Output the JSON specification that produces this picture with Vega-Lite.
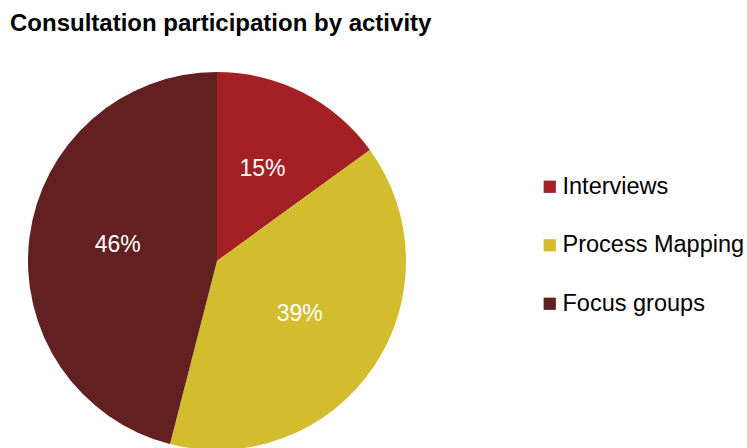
{
  "$schema": "https://vega.github.io/schema/vega-lite/v6.json",
  "autosize": "none",
  "width": 434,
  "height": 422,
  "padding": {"left": 0, "top": 50, "right": 313, "bottom": 0},
  "background": "white",
  "title": {
    "text": "Consultation participation by activity",
    "anchor": "start",
    "frame": "group",
    "dx": 10,
    "offset": 14,
    "font": "Liberation Sans",
    "fontSize": 24,
    "fontWeight": "bold",
    "color": "#000000"
  },
  "data": {
    "values": [
      {"activity": "Interviews", "share": 15, "label": "15%", "rank": 1},
      {"activity": "Process Mapping", "share": 39, "label": "39%", "rank": 2},
      {"activity": "Focus groups", "share": 46, "label": "46%", "rank": 3}
    ]
  },
  "encoding": {
    "theta": {"field": "share", "type": "quantitative", "stack": true},
    "order": {"field": "rank", "type": "quantitative"}
  },
  "layer": [
    {
      "mark": {"type": "arc", "outerRadius": 189},
      "encoding": {
        "color": {
          "field": "activity",
          "type": "nominal",
          "sort": ["Interviews", "Process Mapping", "Focus groups"],
          "scale": {"domain": ["Interviews", "Process Mapping", "Focus groups"], "range": ["#A32024", "#D4BC2F", "#622020"]},
          "legend": {
            "title": null,
            "orient": "none",
            "legendX": 538,
            "legendY": 125,
            "symbolType": "square",
            "symbolSize": 150,
            "symbolStrokeWidth": 0,
            "labelFont": "Liberation Sans",
            "labelFontSize": 23.5,
            "labelColor": "#000000",
            "labelOffset": 1,
            "rowPadding": 33.5,
            "labelLimit": 300
          }
        }
      }
    },
    {
      "mark": {"type": "text", "radius": 100, "dy": -3, "font": "Liberation Sans", "fontSize": 23, "color": "white"},
      "encoding": {"text": {"field": "label"}}
    }
  ]
}
